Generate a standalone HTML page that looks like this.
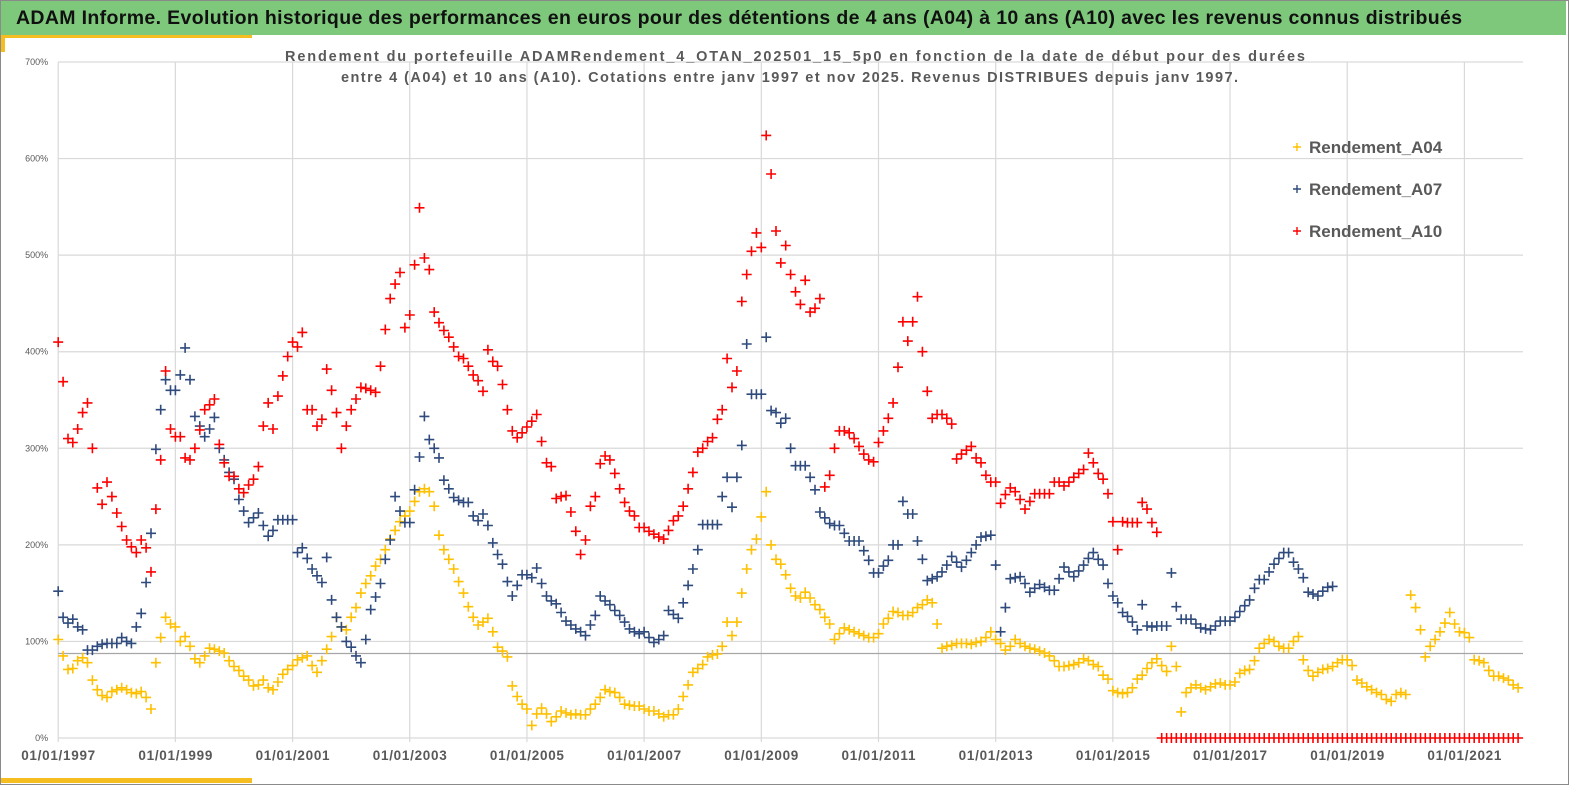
<!DOCTYPE html>
<html><head><meta charset="utf-8">
<style>
html,body{margin:0;padding:0;background:#fff;}
body{width:1569px;height:785px;overflow:hidden;position:relative;font-family:"Liberation Sans",sans-serif;}
#frame{position:absolute;left:0;top:0;width:1567px;height:783px;border:1px solid #8a8a8a;}
#titlebar{position:absolute;left:1px;top:1px;width:1565px;height:34px;background:#7ec87c;}
#titletext{position:absolute;left:15px;top:6px;font-size:19.5px;font-weight:bold;color:#111;white-space:nowrap;letter-spacing:0.35px;}
.ystripe{position:absolute;background:#f5bd1f;}
svg{position:absolute;left:0;top:0;}
</style></head><body>
<div id="frame"></div>
<div id="titlebar"><div id="titletext">ADAM Informe. Evolution historique des performances en euros pour des détentions de 4 ans (A04) à 10 ans (A10) avec les revenus connus distribués</div></div>
<div class="ystripe" style="left:1px;top:35px;width:251px;height:3px"></div>
<div class="ystripe" style="left:1px;top:35px;width:4px;height:17px"></div>
<div class="ystripe" style="left:1px;top:778px;width:251px;height:5px"></div>
<svg id="chart" width="1569" height="785"></svg>
<script>
const yTicks = [0,100,200,300,400,500,600,700];
const xTickYears = [1997,1999,2001,2003,2005,2007,2009,2011,2013,2015,2017,2019,2021];
const xTickLabels = ["01/01/1997","01/01/1999","01/01/2001","01/01/2003","01/01/2005","01/01/2007","01/01/2009","01/01/2011","01/01/2013","01/01/2015","01/01/2017","01/01/2019","01/01/2021"];
const startYear = 1997;
const refValue = 87.5;
const seriesNames = ["Rendement_A04","Rendement_A07","Rendement_A10"];
const a04 = [
102,85,71,72,80,83,78,60,50,44,42,48,
50,52,50,47,46,48,42,30,78,104,125,118,
115,100,105,95,82,78,85,93,92,90,88,80,
74,70,64,60,54,55,60,52,50,58,66,71,
75,81,83,85,75,68,80,92,105,125,115,112,
125,135,150,160,168,178,185,195,206,215,224,230,
235,245,255,258,255,240,210,195,185,175,162,150,
136,125,117,120,124,110,94,90,84,54,43,35,
30,13,25,31,25,17,22,28,26,24,25,24,
24,30,35,42,50,48,47,42,35,34,33,33,
30,28,28,25,22,24,24,30,43,55,68,72,
76,84,86,87,95,120,106,120,150,175,195,206,
229,255,200,185,180,169,155,147,145,151,145,138,
133,125,118,102,108,114,112,110,108,106,104,104,
108,118,124,131,130,127,127,130,135,138,143,140,
118,93,95,96,98,98,98,97,99,100,104,110,
102,98,91,95,102,98,95,93,92,90,88,85,
80,74,74,75,76,78,82,80,76,74,65,61,
49,47,46,47,52,61,65,72,78,82,75,69,
95,74,27,47,52,55,52,50,53,56,57,55,
55,58,67,70,71,80,93,98,102,100,95,93,
93,100,105,81,70,64,68,71,72,74,78,81,
81,75,60,57,53,50,47,45,40,38,45,47,
45,148,135,112,84,95,102,110,119,130,118,110,
109,104,81,80,78,70,64,64,62,60,55,52];
const a07 = [
152,125,119,123,115,112,91,91,95,97,98,98,
98,104,100,98,115,129,161,212,299,340,371,360,
360,376,404,371,333,323,312,320,332,300,288,275,
268,247,235,223,228,233,220,209,215,226,226,226,
226,192,197,186,175,168,161,187,143,125,115,100,
94,85,78,102,133,146,160,185,205,250,235,223,
223,257,291,333,309,300,290,267,258,249,246,244,
244,230,225,232,220,202,190,180,162,147,158,169,
169,166,176,160,147,142,139,130,121,117,113,110,
106,117,127,147,142,138,132,127,120,113,110,108,
110,104,99,102,106,132,128,124,140,158,175,195,
221,221,221,221,250,270,239,270,303,408,356,356,
356,415,339,337,326,331,300,282,282,282,270,257,
234,228,222,220,220,212,204,204,204,194,184,171,
171,178,184,200,200,245,232,232,204,185,163,165,
167,172,179,188,182,177,184,192,200,208,209,210,
179,110,135,165,166,167,160,151,155,159,156,153,
153,165,177,172,167,173,179,186,192,185,179,160,
147,140,130,126,120,112,138,116,115,116,116,116,
171,136,123,123,123,118,114,113,112,116,121,121,
121,125,131,137,143,155,164,164,172,180,186,192,
192,182,175,166,151,149,147,152,156,157];
const a10 = [
410,369,310,306,320,337,347,300,259,242,265,250,
233,219,205,198,192,205,197,172,237,288,380,320,
312,312,290,288,300,319,340,345,351,304,285,271,
271,258,254,262,268,281,323,347,320,354,375,395,
410,405,420,340,340,323,330,382,360,337,300,323,
340,351,363,362,360,358,385,423,455,470,482,425,
438,490,549,497,485,441,430,422,415,405,395,393,
385,376,370,359,402,390,385,366,340,318,311,316,
322,328,335,307,285,281,248,250,251,234,214,190,
205,240,250,284,292,288,274,258,244,235,230,218,
218,214,211,208,206,215,225,230,240,258,275,296,
300,307,311,330,340,393,363,380,452,480,504,523,
508,624,584,525,492,510,480,462,449,474,441,445,
455,260,272,300,318,318,316,310,302,294,288,286,
306,318,331,347,384,431,411,431,457,400,359,331,
335,335,331,325,289,294,298,302,290,285,272,265,
265,243,252,259,255,247,237,245,253,253,253,253,
265,265,261,265,270,274,278,295,285,274,268,253,
224,195,224,223,223,223,244,237,223,213,
0,0,
0,0,0,0,0,0,0,0,0,0,0,0,
0,0,0,0,0,0,0,0,0,0,0,0,
0,0,0,0,0,0,0,0,0,0,0,0,
0,0,0,0,0,0,0,0,0,0,0,0,
0,0,0,0,0,0,0,0,0,0,0,0,
0,0,0,0,0,0,0,0,0,0,0,0];

const NS="http://www.w3.org/2000/svg";
const svg=document.getElementById('chart');
const PL=58.2, PR=1523, PT=62, PB=738;
const yMax=700, yearEnd=2022;
function xScale(yr){return PL+(yr-startYear)/(yearEnd-startYear)*(PR-PL);}
function yScale(v){return PB-(v/yMax)*(PB-PT);}
function mk(tag,attrs,parent){const e=document.createElementNS(NS,tag);for(const k in attrs)e.setAttribute(k,attrs[k]);(parent||svg).appendChild(e);return e;}

const grid=mk('g',{});


yTicks.forEach(t=>{
  const y=yScale(t);
  const l=mk('line',{x1:PL,x2:PR,y1:y,y2:y,stroke:'#d9d9d9','stroke-width':1.2},grid);
  
  
  const tx=mk('text',{x:PL-10,y:y+3,'text-anchor':'end','font-size':9,fill:'#595959','font-family':'Liberation Sans, sans-serif'});
  tx.textContent=t+'%';
  
  
});
xTickYears.forEach((yr,i)=>{
  const x=xScale(yr);
  const l=mk('line',{x1:x,x2:x,y1:PT,y2:PB+4,stroke:'#d9d9d9','stroke-width':1.2},grid);
  
  
  const tx=mk('text',{x:x,y:760,'text-anchor':'middle','font-size':13.5,'font-weight':'bold',fill:'#595959','font-family':'Liberation Sans, sans-serif',textLength:74,lengthAdjust:'spacing'});
  tx.textContent=xTickLabels[i];
  
  
});
const ref=mk('line',{x1:PL,x2:PR,y1:yScale(refValue),y2:yScale(refValue),stroke:'#a6a6a6','stroke-width':1.2});



const sub1=mk('text',{x:285,y:61,'font-size':14.5,'font-weight':'bold',fill:'#595959','font-family':'Liberation Sans, sans-serif',textLength:1020,lengthAdjust:'spacing'});
sub1.textContent='Rendement du portefeuille ADAMRendement_4_OTAN_202501_15_5p0  en fonction de la date de début pour des durées';


const sub2=mk('text',{x:341,y:82,'font-size':14.5,'font-weight':'bold',fill:'#595959','font-family':'Liberation Sans, sans-serif',textLength:897,lengthAdjust:'spacing'});
sub2.textContent='entre 4 (A04) et 10 ans (A10). Cotations entre janv 1997 et nov 2025. Revenus DISTRIBUES depuis janv 1997.';



function drawSeries(data,color,name){
  const g=mk('g',{stroke:color,'stroke-width':1.6,fill:'none'});
  
  
  let d='';
  data.forEach((v,i)=>{
    const x=xScale(startYear+i/12), y=yScale(v);
    d+='M'+(x-5).toFixed(1)+' '+y.toFixed(1)+'h10M'+x.toFixed(1)+' '+(y-5).toFixed(1)+'v10';
  });
  const p=mk('path',{d:d},g);
  
  
}
drawSeries(a04,'#ffc000','series-a04');
drawSeries(a07,'#2f4a7c','series-a07');
drawSeries(a10,'#ff0000','series-a10');

const legColors=['#ffc000','#2f4a7c','#ff0000'];
seriesNames.forEach((n,i)=>{
  const y=147+i*42;
  const g=mk('g',{});
  
  
  mk('path',{d:'M1293 '+y+'h8M1297 '+(y-4)+'v8',stroke:legColors[i],'stroke-width':1.4},g);
  const t=mk('text',{x:1309,y:y+6,'font-size':17,'font-weight':'bold',fill:'#595959','font-family':'Liberation Sans, sans-serif'},g);
  t.textContent=n;
  
  
});
</script>
</body></html>
